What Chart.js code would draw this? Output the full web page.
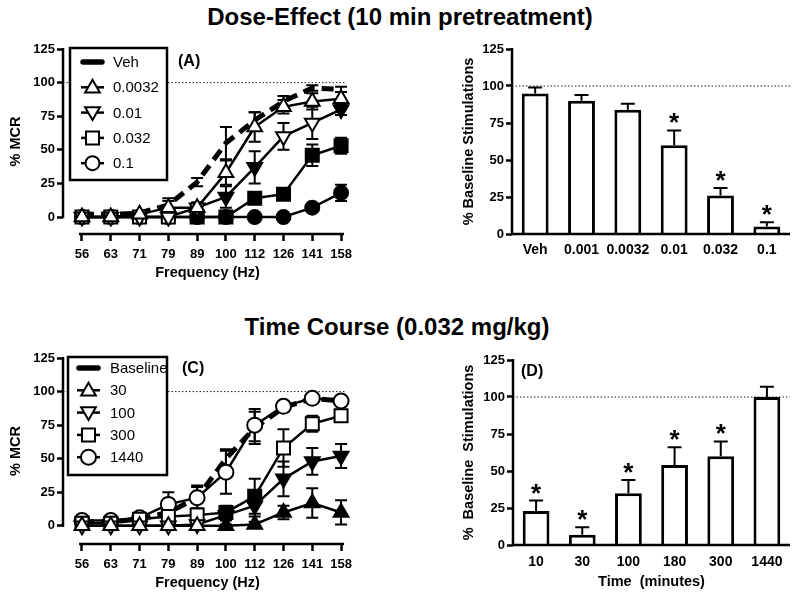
<!DOCTYPE html>
<html>
<head>
<meta charset="utf-8">
<script src="https://cdn.jsdelivr.net/npm/chart.js@4.4.1/dist/chart.umd.min.js"></script>
<style>
  body { margin: 0; background: #fff; }
  #wrap { position: relative; width: 800px; height: 600px; background: #fff; overflow: hidden;
          font-family: 'Liberation Sans', Arial, sans-serif; }
  .ttl { position: absolute; left: 0; width: 800px; text-align: center; font-weight: bold;
         font-size: 24px; line-height: 24px; color: #000; }
  canvas { position: absolute; }
</style>
</head>
<body>
<div id="wrap">
  <div class="ttl" style="top:5px">Dose-Effect (10 min pretreatment)</div>
  <div class="ttl" style="top:315px; left:-3px">Time Course (0.032 mg/kg)</div>
  <canvas id="chartA" width="400" height="260" style="left:0;top:30px"></canvas>
  <canvas id="chartB" width="400" height="260" style="left:400px;top:30px"></canvas>
  <canvas id="chartC" width="400" height="260" style="left:0;top:340px"></canvas>
  <canvas id="chartD" width="400" height="260" style="left:400px;top:340px"></canvas>
</div>
<script>
const FONT = "'Liberation Sans', Arial, sans-serif";

// shared axes
const freqLabels = ['56', '63', '71', '79', '89', '100', '112', '126', '141', '158'];
const yTicks = [0, 25, 50, 75, 100, 125];

// (A) dose-effect curves, % MCR
const vehA      = [2, 2, 3, 9, 26, 55, 72, 86, 96, 95];
const vehAErr   = [1, 1, 1, 3, 3, 12, 6, 4, 2, 2];
const d0032     = [0, 0, 2, 7, 7, 33, 67, 82, 86, 88];
const d0032Err  = [0, 0, 1, 7, 4, 9, 11, 5, 6, 5];
const d0032Sig  = [0, 0, 0, 0, 0, 0, 0, 0, 0, 0];
const d001      = [0, 0, 0, 0, 7, 15, 37, 60, 70, 80];
const d001Err   = [0, 0, 0, 0, 3, 8, 12, 10, 12, 4];
const d001Sig   = [0, 0, 0, 0, 0, 1, 1, 0, 0, 1];
const d032      = [0, 0, 0, 0, 0, 0, 14, 17, 46, 53];
const d032Err   = [0, 0, 0, 0, 0, 0, 4, 0, 8, 6];
const d032Sig   = [0, 0, 0, 0, 1, 1, 1, 1, 1, 1];
const d01       = [0, 0, 0, 0, 0, 0, 0, 0, 7, 18];
const d01Err    = [0, 0, 0, 0, 0, 0, 0, 0, 0, 6];
const d01Sig    = [0, 0, 0, 0, 1, 1, 1, 1, 1, 1];

// (B) % baseline stimulations by dose
const doseLabels = ['Veh', '0.001', '0.0032', '0.01', '0.032', '0.1'];
const doseMean   = [95, 90, 84, 60, 26, 5];
const doseErr    = [4, 4, 4, 10, 5, 3];
const doseSig    = [0, 0, 0, 1, 1, 1];

// (C) time course curves, % MCR
const baseC     = [3, 3, 5, 10, 21, 50, 73, 88, 95, 93];
const baseCErr  = [1, 1, 2, 4, 8, 7, 12, 3, 2, 2];
const t30       = [0, 0, 0, 0, 0, 0, 1, 10, 17, 10];
const t30Err    = [0, 0, 0, 0, 0, 1, 2, 5, 11, 9];
const t30Sig    = [0, 0, 0, 0, 0, 1, 1, 1, 1, 1];
const t100      = [0, 0, 0, 0, 1, 8, 15, 35, 48, 52];
const t100Err   = [0, 0, 0, 0, 2, 4, 8, 13, 10, 9];
const t100Sig   = [0, 0, 0, 0, 0, 1, 1, 1, 1, 1];
const t300      = [2, 2, 5, 7, 8, 10, 22, 58, 76, 82];
const t300Err   = [1, 1, 3, 3, 5, 5, 13, 14, 6, 4];
const t300Sig   = [0, 0, 0, 0, 0, 1, 1, 0, 0, 0];
const t1440     = [4, 4, 6, 16, 21, 40, 75, 89, 95, 93];
const t1440Err  = [1, 1, 2, 9, 9, 16, 12, 2, 2, 2];
const t1440Sig  = [0, 0, 0, 0, 0, 0, 0, 0, 0, 0];

// (D) % baseline stimulations by time
const timeLabels = ['10', '30', '100', '180', '300', '1440'];
const timeMean   = [23, 7, 35, 54, 60, 100];
const timeErr    = [7, 5, 9, 12, 10, 7];
const timeSig    = [1, 1, 1, 1, 1, 0];

function font(size, weight) {
  return { family: FONT, size: size, weight: weight || 'bold' };
}

// error bars, reference line, axes, legend box, panel tag, stars
const prism = {
  id: 'prism',
  beforeDatasetsDraw(chart, args, opts) {
    const { ctx, chartArea: a, scales: { x, y } } = chart;
    ctx.save();
    // dotted 100% line
    const y100 = y.getPixelForValue(100);
    const xEnd = opts.kind === 'line' ? x.getPixelForValue(9) + 4 : a.right;
    ctx.strokeStyle = '#222';
    ctx.lineWidth = 1;
    ctx.setLineDash([1.5, 2]);
    ctx.beginPath();
    ctx.moveTo(a.left, y100);
    ctx.lineTo(xEnd, y100);
    ctx.stroke();
    ctx.setLineDash([]);

    // error bars
    ctx.strokeStyle = '#000';
    ctx.lineWidth = 2;
    chart.data.datasets.forEach((ds, i) => {
      if (!ds.errors) return;
      const meta = chart.getDatasetMeta(i);
      meta.data.forEach((el, j) => {
        const e = ds.errors[j];
        if (!e) return;
        const v = typeof ds.data[j] === 'object' ? ds.data[j].y : ds.data[j];
        const top = y.getPixelForValue(v + e);
        const bot = opts.kind === 'bar' ? el.y : y.getPixelForValue(v - e);
        const cw = opts.kind === 'bar' ? 7 : 6;
        ctx.beginPath();
        ctx.moveTo(el.x, bot);
        ctx.lineTo(el.x, top);
        ctx.moveTo(el.x - cw, top);
        ctx.lineTo(el.x + cw, top);
        if (opts.kind !== 'bar') {
          ctx.moveTo(el.x - cw, bot);
          ctx.lineTo(el.x + cw, bot);
        }
        ctx.stroke();
      });
    });
    ctx.restore();
  },
  afterDraw(chart, args, opts) {
    const { ctx, chartArea: a, scales: { x, y } } = chart;
    ctx.save();
    ctx.strokeStyle = '#000';
    ctx.fillStyle = '#000';
    ctx.lineWidth = 2.5;
    // y axis, only 0..125
    ctx.beginPath();
    ctx.moveTo(a.left, y.getPixelForValue(0) + 1);
    ctx.lineTo(a.left, y.getPixelForValue(125) - 1);
    ctx.stroke();
    // x axis
    ctx.beginPath();
    if (opts.kind === 'line') {
      ctx.moveTo(x.getPixelForValue(0) - 3, a.bottom);
      ctx.lineTo(x.getPixelForValue(9) + 3, a.bottom);
    } else {
      ctx.moveTo(a.left - 1, a.bottom);
      ctx.lineTo(a.right, a.bottom);
    }
    ctx.stroke();

    // significance stars
    if (opts.kind === 'bar') {
      const ds = chart.data.datasets[0];
      const meta = chart.getDatasetMeta(0);
      ctx.font = 'bold 26px ' + FONT;
      ctx.textAlign = 'center';
      ctx.textBaseline = 'alphabetic';
      meta.data.forEach((el, j) => {
        if (!ds.sig[j]) return;
        const cap = y.getPixelForValue(ds.data[j] + ds.errors[j]);
        ctx.fillText('*', el.x, cap + 1);
      });
    }

    // panel tag
    if (opts.tag) {
      ctx.font = 'bold 16px ' + FONT;
      ctx.textAlign = 'left';
      ctx.textBaseline = 'middle';
      ctx.fillText(opts.tag.text, a.left + opts.tag.dx, a.top + opts.tag.dy);
    }

    // legend box
    const lg = opts.legend;
    if (lg) {
      const bx = a.left + lg.x, by = a.top + lg.y;
      ctx.fillStyle = '#fff';
      ctx.fillRect(bx, by, lg.w, lg.h);
      ctx.lineWidth = 2.5;
      ctx.strokeRect(bx, by, lg.w, lg.h);
      ctx.font = '15px ' + FONT;
      ctx.textAlign = 'left';
      ctx.textBaseline = 'middle';
      chart.data.datasets.forEach((ds, i) => {
        const ry = by + lg.row0 + i * lg.rowH;
        const x0 = bx + lg.lineX0, x1 = bx + lg.lineX1;
        ctx.strokeStyle = '#000';
        ctx.beginPath();
        if (ds.pointRadius === 0) {
          ctx.lineWidth = 5.5;
          ctx.lineCap = 'round';
          ctx.moveTo(x0 + 2, ry);
          ctx.lineTo(x1 - 2, ry);
          ctx.stroke();
          ctx.lineCap = 'butt';
        } else {
          ctx.lineWidth = 2.5;
          ctx.moveTo(x0, ry);
          ctx.lineTo(x1, ry);
          ctx.stroke();
          ctx.fillStyle = '#fff';
          ctx.lineWidth = 2;
          Chart.helpers.drawPoint(ctx, {
            pointStyle: ds.pointStyle, radius: ds.pointRadius,
            rotation: ds.pointRotation || 0, borderWidth: 2
          }, (x0 + x1) / 2, ry + (ds.pointStyle === 'triangle' ? (ds.pointRotation ? -1 : 1) : 0));
        }
        ctx.fillStyle = '#000';
        ctx.fillText(ds.label, bx + lg.textX, ry + 1);
      });
    }
    ctx.restore();
  }
};

function dashSet(label, values, errors) {
  return {
    label: label, errors: errors,
    data: values.map((v, i) => ({ x: i, y: v })),
    borderColor: '#000', borderWidth: 5, borderDash: [12, 7],
    pointRadius: 0, order: 2, tension: 0
  };
}

function markSet(label, values, errors, sig, style, radius, rotation, order) {
  return {
    label: label, errors: errors,
    data: values.map((v, i) => ({ x: i, y: v })),
    borderColor: '#000', borderWidth: 2.5,
    pointStyle: style, pointRadius: radius, pointRotation: rotation || 0,
    pointBorderColor: '#000', pointBorderWidth: 2,
    pointBackgroundColor: sig.map(s => s ? '#000' : '#fff'),
    order: order || 0, tension: 0
  };
}

function yAxis(min, width, title, titlePad) {
  return {
    min: min, max: 125,
    afterBuildTicks: s => { s.ticks = yTicks.map(v => ({ value: v })); },
    afterFit: s => { s.width = width; },
    grid: { drawOnChartArea: false, tickLength: 6, tickWidth: 2.5, tickColor: '#000' },
    border: { display: false },
    ticks: { padding: 2, color: '#000', font: font(13) },
    title: { display: true, text: title, color: '#000', font: font(14.5), padding: { top: titlePad } }
  };
}

function lineConfig(datasets, yMin, padTop, legend, tag) {
  return {
    type: 'line',
    data: { datasets: datasets },
    options: {
      responsive: false, animation: false, events: [],
      layout: { padding: { top: padTop, right: 48, left: 0, bottom: 0 } },
      scales: {
        x: {
          type: 'linear', min: -0.66, max: 9.38,
          afterBuildTicks: s => { s.ticks = freqLabels.map((_, i) => ({ value: i })); },
          afterFit: s => { s.height = 56; },
          grid: { drawOnChartArea: false, tickLength: 7, tickWidth: 2.5, tickColor: '#000' },
          border: { display: false },
          ticks: { autoSkip: false, maxRotation: 0, padding: 6, color: '#000', font: font(13),
                   callback: v => freqLabels[v] },
          title: { display: true, text: 'Frequency (Hz)', color: '#000', font: font(14.5), padding: { bottom: 8 } }
        },
        y: yAxis(yMin, 63, '% MCR', 7)
      },
      plugins: {
        legend: { display: false }, tooltip: { enabled: false },
        prism: { kind: 'line', legend: legend, tag: tag }
      }
    },
    plugins: [prism]
  };
}

function barConfig(labels, means, errors, sig, padTop, yWidth, xHeight, xTitle, labelPad, tag) {
  return {
    type: 'bar',
    data: {
      labels: labels,
      datasets: [{
        data: means, errors: errors, sig: sig,
        backgroundColor: '#fff', borderColor: '#000', borderWidth: 3,
        borderSkipped: 'start', barPercentage: 0.58, categoryPercentage: 1
      }]
    },
    options: {
      responsive: false, animation: false, events: [],
      layout: { padding: { top: padTop, right: 10, left: 0, bottom: 0 } },
      scales: {
        x: {
          afterFit: s => { s.height = xHeight; },
          grid: { display: false, drawTicks: false }, border: { display: false },
          ticks: { autoSkip: false, maxRotation: 0, minRotation: 0, padding: labelPad,
                   color: '#000', font: font(14) },
          title: { display: !!xTitle, text: xTitle || '', color: '#000', font: font(14.5), padding: { bottom: 9 } }
        },
        y: yAxis(0, yWidth, xTitle ? '%  Baseline  Stimulations' : '% Baseline Stimulations', 60)
      },
      plugins: {
        legend: { display: false }, tooltip: { enabled: false },
        prism: { kind: 'bar', legend: null, tag: tag }
      }
    },
    plugins: [prism]
  };
}

new Chart(document.getElementById('chartA'), lineConfig([
  dashSet('Veh', vehA, vehAErr),
  markSet('0.0032', d0032, d0032Err, d0032Sig, 'triangle', 8.5, 0),
  markSet('0.01', d001, d001Err, d001Sig, 'triangle', 8.5, 180),
  markSet('0.032', d032, d032Err, d032Sig, 'rect', 9.2, 0),
  markSet('0.1', d01, d01Err, d01Sig, 'circle', 7, 0)
], -12.6, 19,
  { x: 7, y: -1, w: 97, h: 132, row0: 14, rowH: 25.3, lineX0: 11, lineX1: 34, textX: 43 },
  { text: '(A)', dx: 115, dy: 13 }));

new Chart(document.getElementById('chartB'),
  barConfig(doseLabels, doseMean, doseErr, doseSig, 19, 112, 56, null, 8, null));

new Chart(document.getElementById('chartC'), lineConfig([
  dashSet('Baseline', baseC, baseCErr),
  markSet('30', t30, t30Err, t30Sig, 'triangle', 8.5, 0),
  markSet('100', t100, t100Err, t100Sig, 'triangle', 8.5, 180),
  markSet('300', t300, t300Err, t300Sig, 'rect', 9.2, 0),
  markSet('1440', t1440, t1440Err, t1440Sig, 'circle', 7.5, 0, 1)
], -13.5, 18,
  { x: 5, y: -1, w: 99, h: 118, row0: 11, rowH: 22.3, lineX0: 9, lineX1: 32, textX: 42 },
  { text: '(C)', dx: 119, dy: 11 }));

new Chart(document.getElementById('chartD'),
  barConfig(timeLabels, timeMean, timeErr, timeSig, 20, 113, 55, 'Time  (minutes)', 9,
    { text: '(D)', dx: 8, dy: 12 }));
</script>
</body>
</html>
